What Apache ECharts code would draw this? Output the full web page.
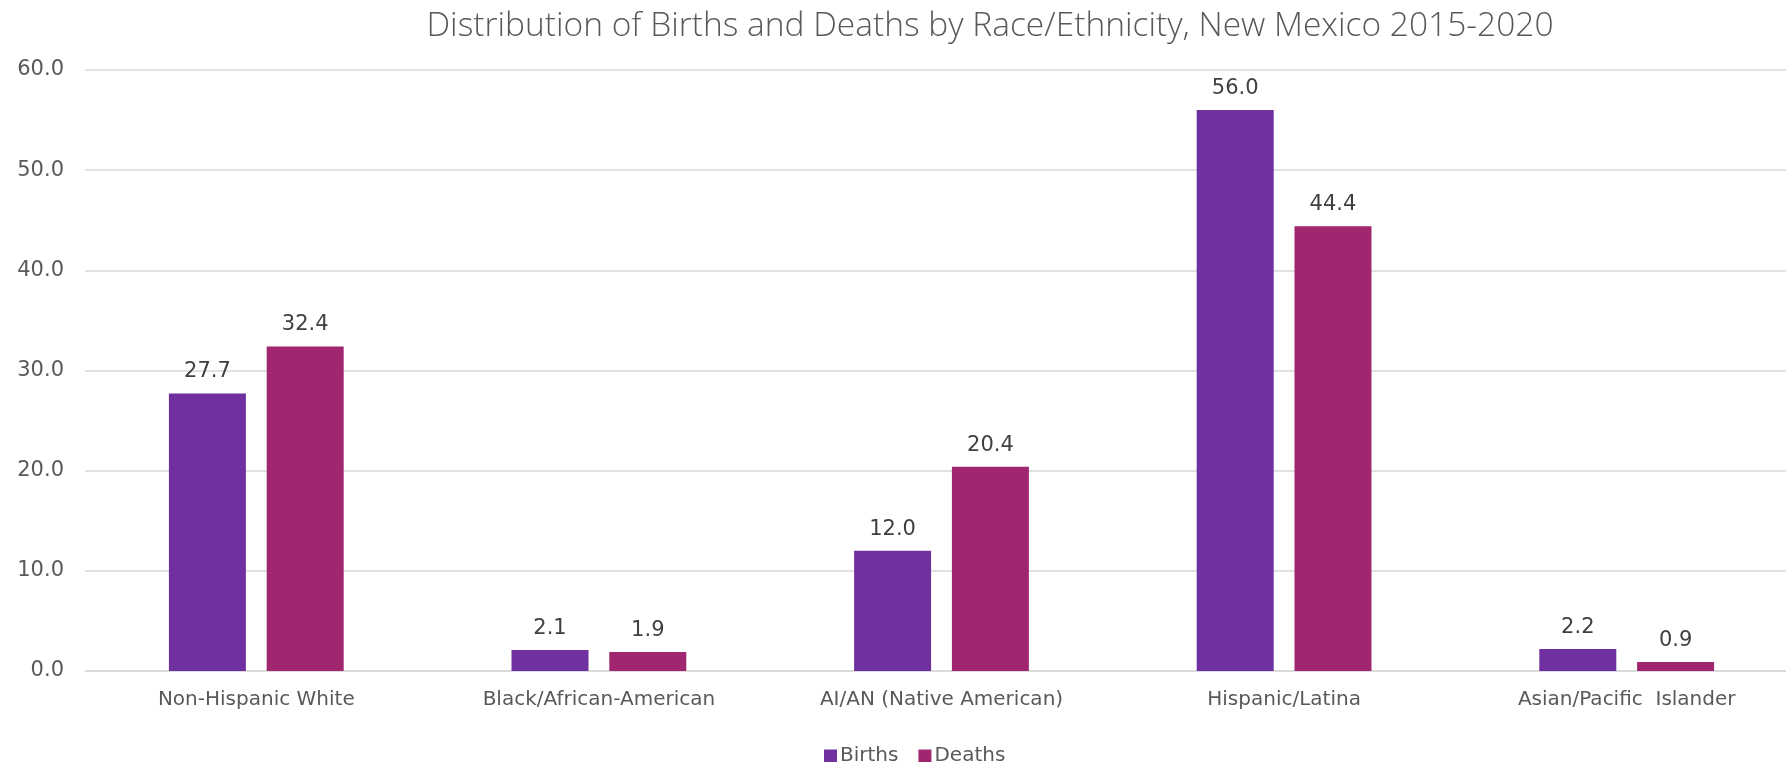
<!DOCTYPE html>
<html>
<head>
    <meta charset="utf-8">
    <title>Births and Deaths by Race/Ethnicity</title>
    <script src="https://cdn.jsdelivr.net/npm/echarts@6/dist/echarts.min.js"></script>
    <style>
        html, body { margin: 0; padding: 0; background: #fff; }
        #main { width: 1786px; height: 762px; }
    </style>
</head>
<body>
<div id="main"></div>
<script>
    // data
    var categories = ['Non-Hispanic White', 'Black/African-American', 'AI/AN (Native American)', 'Hispanic/Latina', 'Asian/Pacific  Islander'];
    var births = [27.7, 2.1, 12.0, 56.0, 2.2];
    var deaths = [32.4, 1.9, 20.4, 44.4, 0.9];
    var yTicks = { min: 0, max: 60, step: 10 };

    var labelFont = '"DejaVu Sans", "Liberation Sans", sans-serif';

    var myChart = echarts.init(document.getElementById('main'));

    function barSeries(name, data, color) {
        return {
            name: name,
            type: 'bar',
            data: data,
            barWidth: 77,
            barGap: '27%',
            itemStyle: { color: color },
            label: {
                show: true,
                position: 'top',
                distance: 11,
                color: '#404040',
                fontSize: 21,
                fontFamily: labelFont,
                formatter: function (p) { return p.value.toFixed(1); }
            }
        };
    }

    var option = {
        backgroundColor: '#fff',
        animation: false,
        title: {
            text: 'Distribution of Births and Deaths by Race/Ethnicity, New Mexico 2015-2020',
            left: 985,
            top: 4,
            textAlign: 'center',
            textStyle: {
                color: '#595959',
                fontSize: 33.5,
                fontWeight: 300,
                fontFamily: '"Open Sans", sans-serif'
            }
        },
        legend: {
            data: ['Births', 'Deaths'],
            left: 819,
            top: 741,
            itemWidth: 13,
            itemHeight: 13,
            itemGap: 20,
            icon: 'rect',
            textStyle: { color: '#595959', fontSize: 20, fontFamily: labelFont, padding: [0, 0, 0, -2] }
        },
        grid: {
            left: 85,
            right: -12,
            top: 70,
            bottom: 91,
            containLabel: false,
            outerBoundsMode: 'none'
        },
        xAxis: {
            type: 'category',
            data: categories,
            axisLine: { lineStyle: { color: '#d9d9d9', width: 1.5 } },
            axisTick: { show: false },
            axisLabel: { color: '#595959', fontSize: 20, margin: 19, fontFamily: labelFont, interval: 0 }
        },
        yAxis: {
            type: 'value',
            min: yTicks.min,
            max: yTicks.max,
            interval: yTicks.step,
            axisLine: { show: false },
            axisTick: { show: false },
            splitLine: { lineStyle: { color: '#d9d9d9', width: 1.5 } },
            axisLabel: {
                color: '#595959',
                fontSize: 21,
                margin: 21,
                fontFamily: labelFont,
                formatter: function (v) { return v.toFixed(1); }
            }
        },
        series: [
            barSeries('Births', births, '#7030A0'),
            barSeries('Deaths', deaths, '#9F266F')
        ]
    };

    myChart.setOption(option);
</script>
</body>
</html>
